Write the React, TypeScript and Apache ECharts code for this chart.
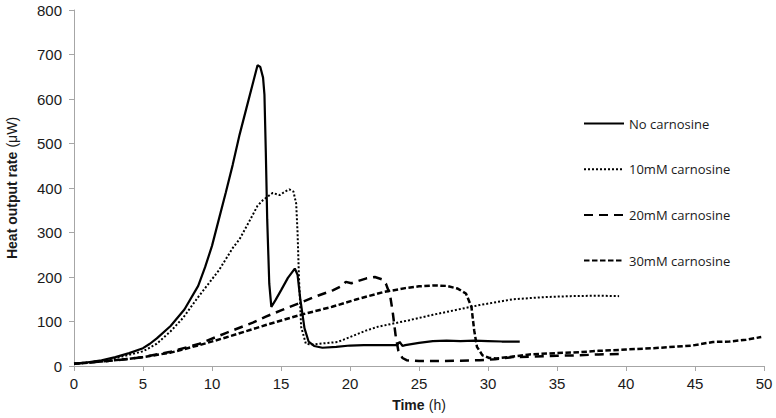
import React, { useEffect, useRef } from "react";
import * as echarts from "echarts";

// ---- Data ----
const xTicks = [0, 5, 10, 15, 20, 25, 30, 35, 40, 45, 50];
const yTicks = [0, 100, 200, 300, 400, 500, 600, 700, 800];

const seriesNames = ["No carnosine", "10mM carnosine", "20mM carnosine", "30mM carnosine"];

const noCarnosineT = [0, 1, 2, 3, 4, 5, 5.5, 6, 7, 8, 9, 9.5, 10, 10.5, 11, 11.5, 12, 12.5, 13, 13.3, 13.5, 13.7, 13.8, 13.9, 14.0, 14.15, 14.3, 14.6, 15, 15.5, 16, 16.2, 16.4, 16.7, 17, 17.4, 18, 19, 20, 21, 22, 23, 23.4, 23.6, 23.8, 24, 25, 26, 27, 28, 29, 30, 31, 32.3];
const noCarnosineV = [5, 8, 13, 20, 29, 40, 50, 62, 90, 127, 180, 222, 270, 330, 390, 452, 520, 580, 640, 676, 672, 648, 610, 480, 330, 185, 133, 148, 170, 198, 219, 205, 150, 85, 55, 45, 41, 43, 46, 47, 47, 47, 47, 54, 45, 47, 52, 56, 57, 56, 57, 56, 55, 55];

const c10T = [0, 1, 2, 3, 4, 5, 6, 7, 7.9, 9, 10, 10.5, 11, 11.5, 12, 12.7, 13.3, 13.7, 14.4, 14.9, 15.3, 15.6, 15.9, 16.1, 16.2, 16.3, 16.46, 16.8, 17.2, 17.8, 19.1, 20, 21.2, 22, 24.3, 26, 28, 29.4, 31.8, 34.2, 36, 38, 39.5];
const c10V = [5, 8, 12, 18, 25, 33, 50, 78, 108, 155, 195, 215, 240, 265, 285, 325, 360, 373, 389, 384, 392, 397, 392, 365, 300, 200, 88, 50, 48, 50, 54, 65, 80, 88, 103, 115, 128, 137, 150, 155, 157, 158, 157];

const c20T = [0, 2, 4, 5, 7, 9.1, 11, 13, 13.9, 15, 16.3, 17.5, 18.75, 19.4, 19.7, 20.1, 21.2, 21.8, 22.3, 22.6, 22.9, 23.1, 23.3, 23.5, 23.8, 24.1, 25, 26, 28, 29.4, 30.5, 31.8, 33, 35, 36.6, 38, 39.6];
const c20V = [5, 10, 16, 20, 32, 50, 74, 98, 111, 125, 141, 156, 170, 180, 189, 186, 197, 200, 195, 185, 160, 120, 70, 35, 18, 13, 11, 11, 12, 13, 15, 20, 21, 23, 24, 26, 27];

const c30T = [0, 2, 4, 5, 7, 9.1, 11, 13.9, 16.3, 18.7, 20.5, 22.4, 24, 25, 26, 27, 27.8, 28.4, 28.8, 29.0, 29.2, 29.6, 30.1, 30.6, 31.5, 33, 35, 36.6, 38, 40, 42, 44.8, 46.3, 47.5, 48.7, 49.8];
const c30V = [5, 10, 16, 20, 30, 47, 64, 92, 114, 133, 150, 166, 175, 179, 181, 180, 174, 163, 133, 80, 43, 24, 18, 17, 20, 26, 29, 31, 34, 37, 40, 46, 54, 55, 59, 65];

const zip = (t: number[], v: number[]) => t.map((x, i) => [x, v[i]]);

export default function App() {
  const ref = useRef<HTMLDivElement>(null);
  useEffect(() => {
    if (!ref.current) return;
    const chart = echarts.init(ref.current, undefined, { renderer: "svg" });
    const axisGray = "#A6A6A6";
    const ff = "Liberation Sans, Arial, sans-serif";
    const labelFont = { fontFamily: ff, fontSize: 15, color: "#1a1a1a" };
    const lineBase = { color: "#000", cap: "butt" as const };
    const rich = {
      b: { fontFamily: ff, fontSize: 14, fontWeight: "bold", color: "#1a1a1a" },
      n: { fontFamily: ff, fontSize: 14, color: "#1a1a1a" },
    };
    chart.setOption({
      animation: false,
      backgroundColor: "#fff",
      grid: { left: 74, right: 12, top: 10, bottom: 52, containLabel: false, outerBoundsMode: "none" },
      legend: {
        orient: "vertical",
        left: 578,
        top: 112,
        padding: 5,
        itemWidth: 40,
        itemHeight: 14,
        itemGap: 32.7,
        data: seriesNames,
        itemStyle: { opacity: 0 },
        textStyle: { fontFamily: "Open Sans, Noto Sans, sans-serif", fontSize: 13, color: "#1a1a1a" },
      },
      xAxis: {
        type: "value",
        min: xTicks[0],
        max: xTicks[xTicks.length - 1],
        interval: 5,
        axisLine: { show: true, lineStyle: { color: axisGray, width: 1 } },
        axisTick: { show: true, length: 5, inside: false, lineStyle: { color: axisGray } },
        axisLabel: { ...labelFont, margin: 10 },
        splitLine: { show: false },
        name: "{b|Time} {n|(h)}",
        nameLocation: "middle",
        nameGap: 31,
        nameTextStyle: { ...labelFont, rich },
      },
      yAxis: {
        type: "value",
        min: yTicks[0],
        max: yTicks[yTicks.length - 1],
        interval: 100,
        axisLine: { show: true, lineStyle: { color: axisGray, width: 1 } },
        axisTick: { show: true, length: 5, inside: false, lineStyle: { color: axisGray } },
        axisLabel: { ...labelFont, margin: 12 },
        splitLine: { show: false },
        name: "{b|Heat output rate} {n|(μW)}",
        nameLocation: "middle",
        nameRotate: 90,
        nameGap: 55,
        nameTextStyle: { ...labelFont, rich },
      },
      series: [
        {
          name: seriesNames[0],
          type: "line",
          symbol: "none",
          data: zip(noCarnosineT, noCarnosineV),
          lineStyle: { ...lineBase, width: 2.2, type: "solid" },
          itemStyle: { color: "#000" },
          z: 5,
        },
        {
          name: seriesNames[1],
          type: "line",
          symbol: "none",
          data: zip(c10T, c10V),
          lineStyle: { ...lineBase, width: 2, type: [2, 2] },
          itemStyle: { color: "#000" },
        },
        {
          name: seriesNames[2],
          type: "line",
          symbol: "none",
          data: zip(c20T, c20V),
          lineStyle: { ...lineBase, width: 2.5, type: [9, 6] },
          itemStyle: { color: "#000" },
        },
        {
          name: seriesNames[3],
          type: "line",
          symbol: "none",
          data: zip(c30T, c30V),
          lineStyle: { ...lineBase, width: 2.5, type: [5.5, 2.5] },
          itemStyle: { color: "#000" },
        },
      ],
    });
    return () => chart.dispose();
  }, []);
  return (
    <div
      ref={ref}
      style={{ position: "absolute", left: 0, top: 0, width: 776, height: 418 }}
    />
  );
}
